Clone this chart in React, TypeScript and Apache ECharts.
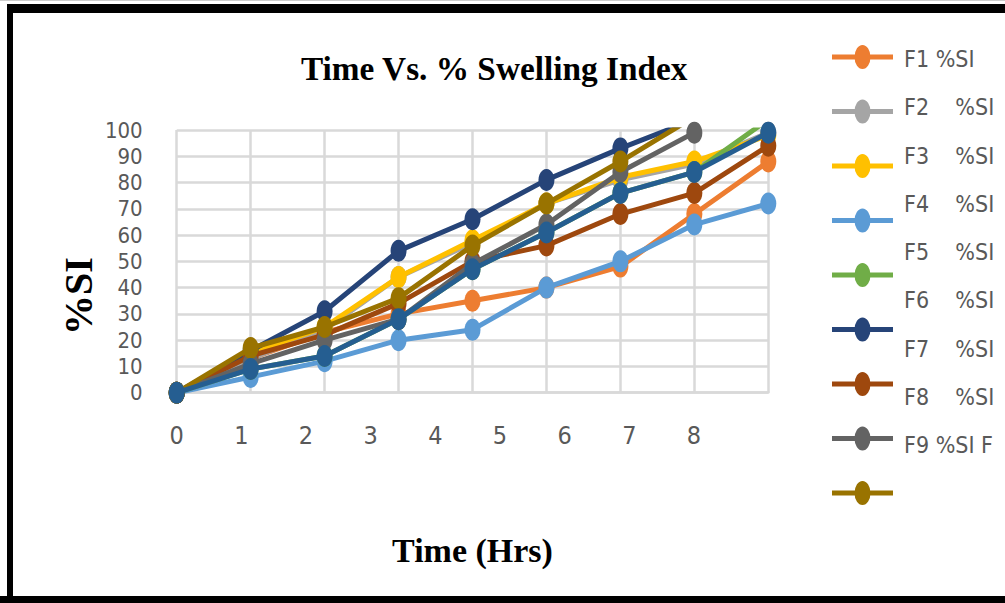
import React, { useEffect, useRef } from "react";
import * as echarts from "echarts";

// ---- data ----
const times = [0, 1, 2, 3, 4, 5, 6, 7, 8];
const xTickLabels = ["0", "1", "2", "3", "4", "5", "6", "7", "8"];
const seriesNames = [
  "F1 %SI",
  "F2    %SI",
  "F3    %SI",
  "F4    %SI",
  "F5    %SI",
  "F6    %SI",
  "F7    %SI",
  "F8    %SI",
  "F9 %SI F",
  "F10 %SI",
];
const seriesColors = [
  "#ED7D31",
  "#A5A5A5",
  "#FFC000",
  "#5B9BD5",
  "#70AD47",
  "#264478",
  "#9E480E",
  "#636363",
  "#997300",
  "#255E91",
];
const f1 = [0, 13, 23, 30, 35, 40, 48, 68, 88];
const f2 = [0, 13, 24, 44, 57, 72, 81, 87, 99];
const f3 = [0, 15, 25, 44, 58, 72, 82, 88, 98];
const f4 = [0, 6, 12, 20, 24, 40, 50, 64, 72];
const f5 = [0, 9, 14, 28, 47, 61, 76, 84, 104];
const f6 = [0, 16, 31, 54, 66, 81, 93, 104, 112];
const f7 = [0, 14, 22, 34, 50, 56, 68, 76, 94];
const f8 = [0, 11, 20, 28, 49, 64, 84, 99, null];
const f9 = [0, 17, 25, 36, 56, 72, 88, 105, 115];
const f10 = [0, 9, 14, 28, 47, 61, 76, 84, 99];
const allValues = [f1, f2, f3, f4, f5, f6, f7, f8, f9, f10];

const labelFont = "'Liberation Sans Narrow', 'DejaVu Sans Condensed', 'Liberation Sans', sans-serif";
const serifFont = "'Liberation Serif', 'Times New Roman', serif";

const legendIconPath =
  "path://M0 9.5h61v5H0z M22.5 12a8 12 0 1 1 16 0a8 12 0 1 1 -16 0z";

export default function App() {
  const ref = useRef<HTMLDivElement>(null);
  useEffect(() => {
    if (!ref.current) return;
    const chart = echarts.init(ref.current, undefined, { renderer: "svg" });
    const legendNames = seriesNames.slice(0, 9);
    const option: any = {
      animation: false,
      backgroundColor: "#ffffff",
      title: {
        text: "Time Vs. % Swelling Index",
        left: 296,
        top: 47,
        textStyle: {
          fontFamily: serifFont,
          fontWeight: "bold",
          fontSize: 33.3,
          color: "#000",
        },
      },
      grid: { left: 176.7, right: 236.7, top: 130, bottom: 210.3 },
      legend: [
        {
          data: legendNames,
          orient: "vertical",
          left: 827,
          top: 40,
          itemWidth: 61,
          itemHeight: 24,
          itemGap: 30.5,
          icon: legendIconPath,
          formatter: () => "",
          selectedMode: false,
        },
        {
          data: legendNames,
          orient: "vertical",
          left: 893,
          top: 41,
          itemWidth: 1,
          itemHeight: 1,
          itemGap: 22.25,
          icon: "rect",
          itemStyle: { opacity: 0 },
          selectedMode: false,
          formatter: (name: string) =>
            name.replace(/ {2,}/g, (m: string) => "\u00a0".repeat(m.length)),
          textStyle: {
            fontFamily: labelFont,
            fontSize: 23,
            lineHeight: 26,
            color: "#595959",
          },
        },
      ],
      xAxis: [
        {
          type: "value",
          min: 0,
          max: 8,
          interval: 1,
          axisLine: { show: true, lineStyle: { color: "#d9d9d9", width: 2.5 } },
          axisTick: { show: false },
          axisLabel: { show: false },
          splitLine: { show: true, lineStyle: { color: "#d9d9d9", width: 2.5 } },
        },
        {
          type: "value",
          position: "bottom",
          min: 0,
          max: 9.15,
          interval: 1,
          axisLine: { show: false },
          axisTick: { show: false },
          splitLine: { show: false },
          axisLabel: {
            margin: 30,
            fontFamily: labelFont,
            fontSize: 25,
            color: "#595959",
            formatter: (v: number) =>
              Number.isInteger(v) && v <= 8 ? xTickLabels[v] : "",
          },
          name: "Time (Hrs)",
          nameLocation: "middle",
          nameGap: 141,
          nameTextStyle: {
            fontFamily: serifFont,
            fontWeight: "bold",
            fontSize: 34,
            color: "#000",
          },
        },
      ],
      yAxis: {
        type: "value",
        min: 0,
        max: 100,
        interval: 10,
        axisLine: { show: false },
        axisTick: { show: false },
        axisLabel: {
          margin: 34,
          fontFamily: labelFont,
          fontSize: 22,
          color: "#595959",
        },
        splitLine: { show: true, lineStyle: { color: "#d9d9d9", width: 2.5 } },
      },
      graphic: [
        { type: "rect", shape: { x: 7, y: 4, width: 998, height: 9 }, style: { fill: "#000" }, z: 100 },
        { type: "rect", shape: { x: 7, y: 4, width: 6, height: 599 }, style: { fill: "#000" }, z: 100 },
        { type: "rect", shape: { x: 0, y: 596, width: 1005, height: 7 }, style: { fill: "#000" }, z: 100 },
        { type: "rect", shape: { x: 0, y: 0, width: 1005, height: 1 }, style: { fill: "#cccccc" }, z: 100 },
        {
          type: "text",
          x: 78,
          y: 296,
          rotation: Math.PI / 2,
          z: 100,
          style: {
            text: "%SI",
            fontFamily: serifFont,
            fontWeight: "bold",
            fontSize: 40,
            fill: "#000",
            align: "center",
            verticalAlign: "middle",
          },
        },
      ],
      series: allValues.map((vals, i) => ({
        name: seriesNames[i],
        type: "line",
        xAxisIndex: 0,
        yAxisIndex: 0,
        data: times.map((t, j) => [t, vals[j]]),
        connectNulls: false,
        symbol: "circle",
        symbolSize: [16, 22],
        showSymbol: true,
        color: seriesColors[i],
        lineStyle: { width: 5, color: seriesColors[i] },
        itemStyle: { color: seriesColors[i] },
        clip: true,
        z: 2 + i * 0.01,
      })),
    };
    chart.setOption(option);
    return () => chart.dispose();
  }, []);
  return (
    <div
      ref={ref}
      style={{ position: "absolute", left: 0, top: 0, width: 1005, height: 603, background: "#fff" }}
    />
  );
}
